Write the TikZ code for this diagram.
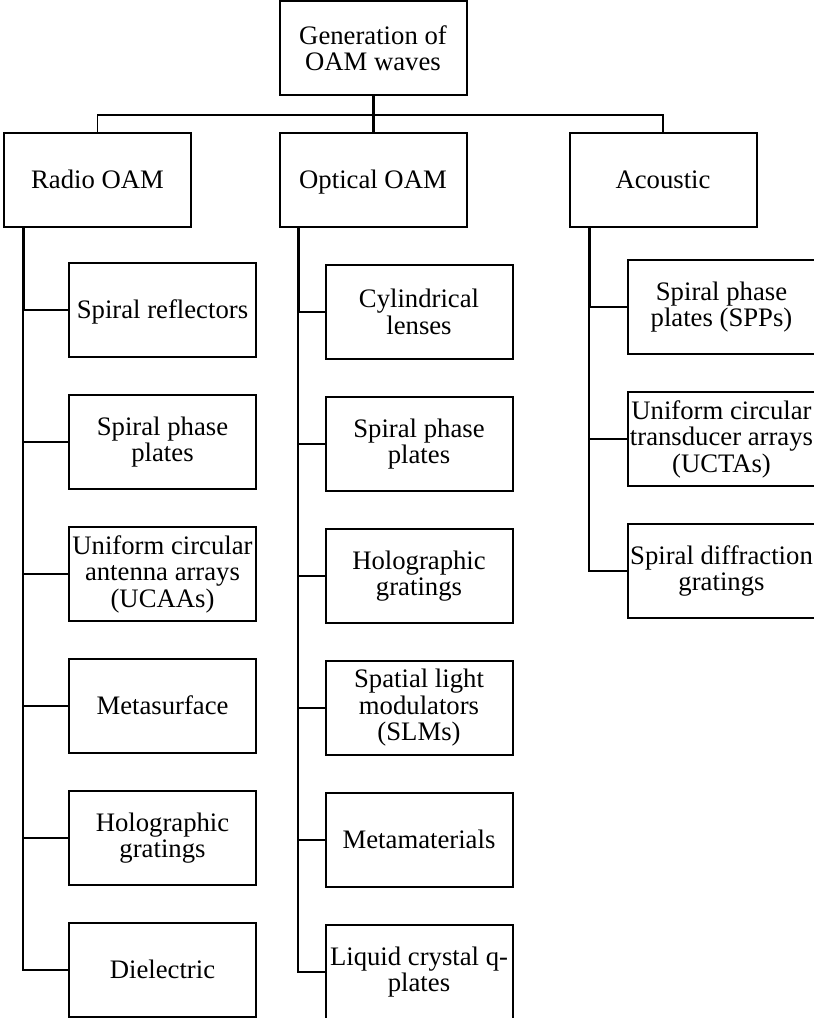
\documentclass[tikz,border=0pt]{standalone}
\usepackage{fontspec}
\setmainfont{Liberation Serif}
\begin{document}
\begin{tikzpicture}[x=1pt,y=-1pt,
  box/.style={draw, line width=2pt, rectangle, minimum width=187pt, minimum height=94pt,
    inner sep=0pt, align=center, font=\fontsize{26.7}{26.5}\selectfont},
  single/.style={text height=22pt, text depth=5pt},
  trunk/.style={line width=3pt},
  twig/.style={line width=2pt},
  bus/.style={line width=1.6pt}]
\useasboundingbox (0,0) rectangle (814,1018);
\begin{scope}
\clip (0,0) rectangle (814,1018);

% root and first level
\node[box] (root) at (373,48) {Generation of\\OAM waves};
\node[box, single] (radio) at (97.5,180) {Radio OAM};
\node[box, single] (optical) at (373,180) {Optical OAM};
\node[box, single] (acoustic) at (663,180) {Acoustic};

% radio branch
\node[box, single] (r1) at (162.5,310) {Spiral reflectors};
\node[box] (r2) at (162.5,442) {Spiral phase\\plates};
\node[box] (r3) at (162.5,574) {Uniform circular\\antenna arrays\\(UCAAs)};
\node[box, single] (r4) at (162.5,706) {Metasurface};
\node[box] (r5) at (162.5,838) {Holographic\\gratings};
\node[box, single] (r6) at (162.5,970) {Dielectric};

% optical branch
\node[box] (o1) at (419,312) {Cylindrical\\lenses};
\node[box] (o2) at (419,444) {Spiral phase\\plates};
\node[box] (o3) at (419,576) {Holographic\\gratings};
\node[box] (o4) at (419,708) {Spatial light\\modulators\\(SLMs)};
\node[box, single] (o5) at (419,840) {Metamaterials};
\node[box] (o6) at (419,972) {Liquid crystal q-\\plates};

% acoustic branch
\node[box] (a1) at (721.5,307) {Spiral phase\\plates (SPPs)};
\node[box] (a2) at (721.5,439) {Uniform circular\\transducer arrays\\(UCTAs)};
\node[box] (a3) at (721.5,571) {Spiral diffraction\\gratings};

% trunk positions
\coordinate (busy) at (0,115);
\coordinate (rt) at (23,0);
\coordinate (ot) at (298,0);
\coordinate (at) at (589,0);

% root to first level
\draw[trunk] (root.south) -- (optical.north);
\draw[bus] (radio.north) |- (busy -| acoustic.north) -- (acoustic.north);

% radio trunk and twigs
\draw[trunk] (radio.south -| rt) -- (r1.west -| rt);
\draw[twig] (r1.west -| rt) -- (r6.west -| rt) -- (r6.west);
\foreach \n in {r1,r2,r3,r4,r5} \draw[twig] (\n.west -| rt) -- (\n.west);

% optical trunk and twigs
\draw[trunk] (optical.south -| ot) -- (o1.west -| ot);
\draw[twig] (o1.west -| ot) -- (o6.west -| ot) -- (o6.west);
\foreach \n in {o1,o2,o3,o4,o5} \draw[twig] (\n.west -| ot) -- (\n.west);

% acoustic trunk and twigs
\draw[trunk] (acoustic.south -| at) -- (a1.west -| at);
\draw[twig] (a1.west -| at) -- (a3.west -| at) -- (a3.west);
\foreach \n in {a1,a2} \draw[twig] (\n.west -| at) -- (\n.west);
\end{scope}
\end{tikzpicture}
\end{document}
